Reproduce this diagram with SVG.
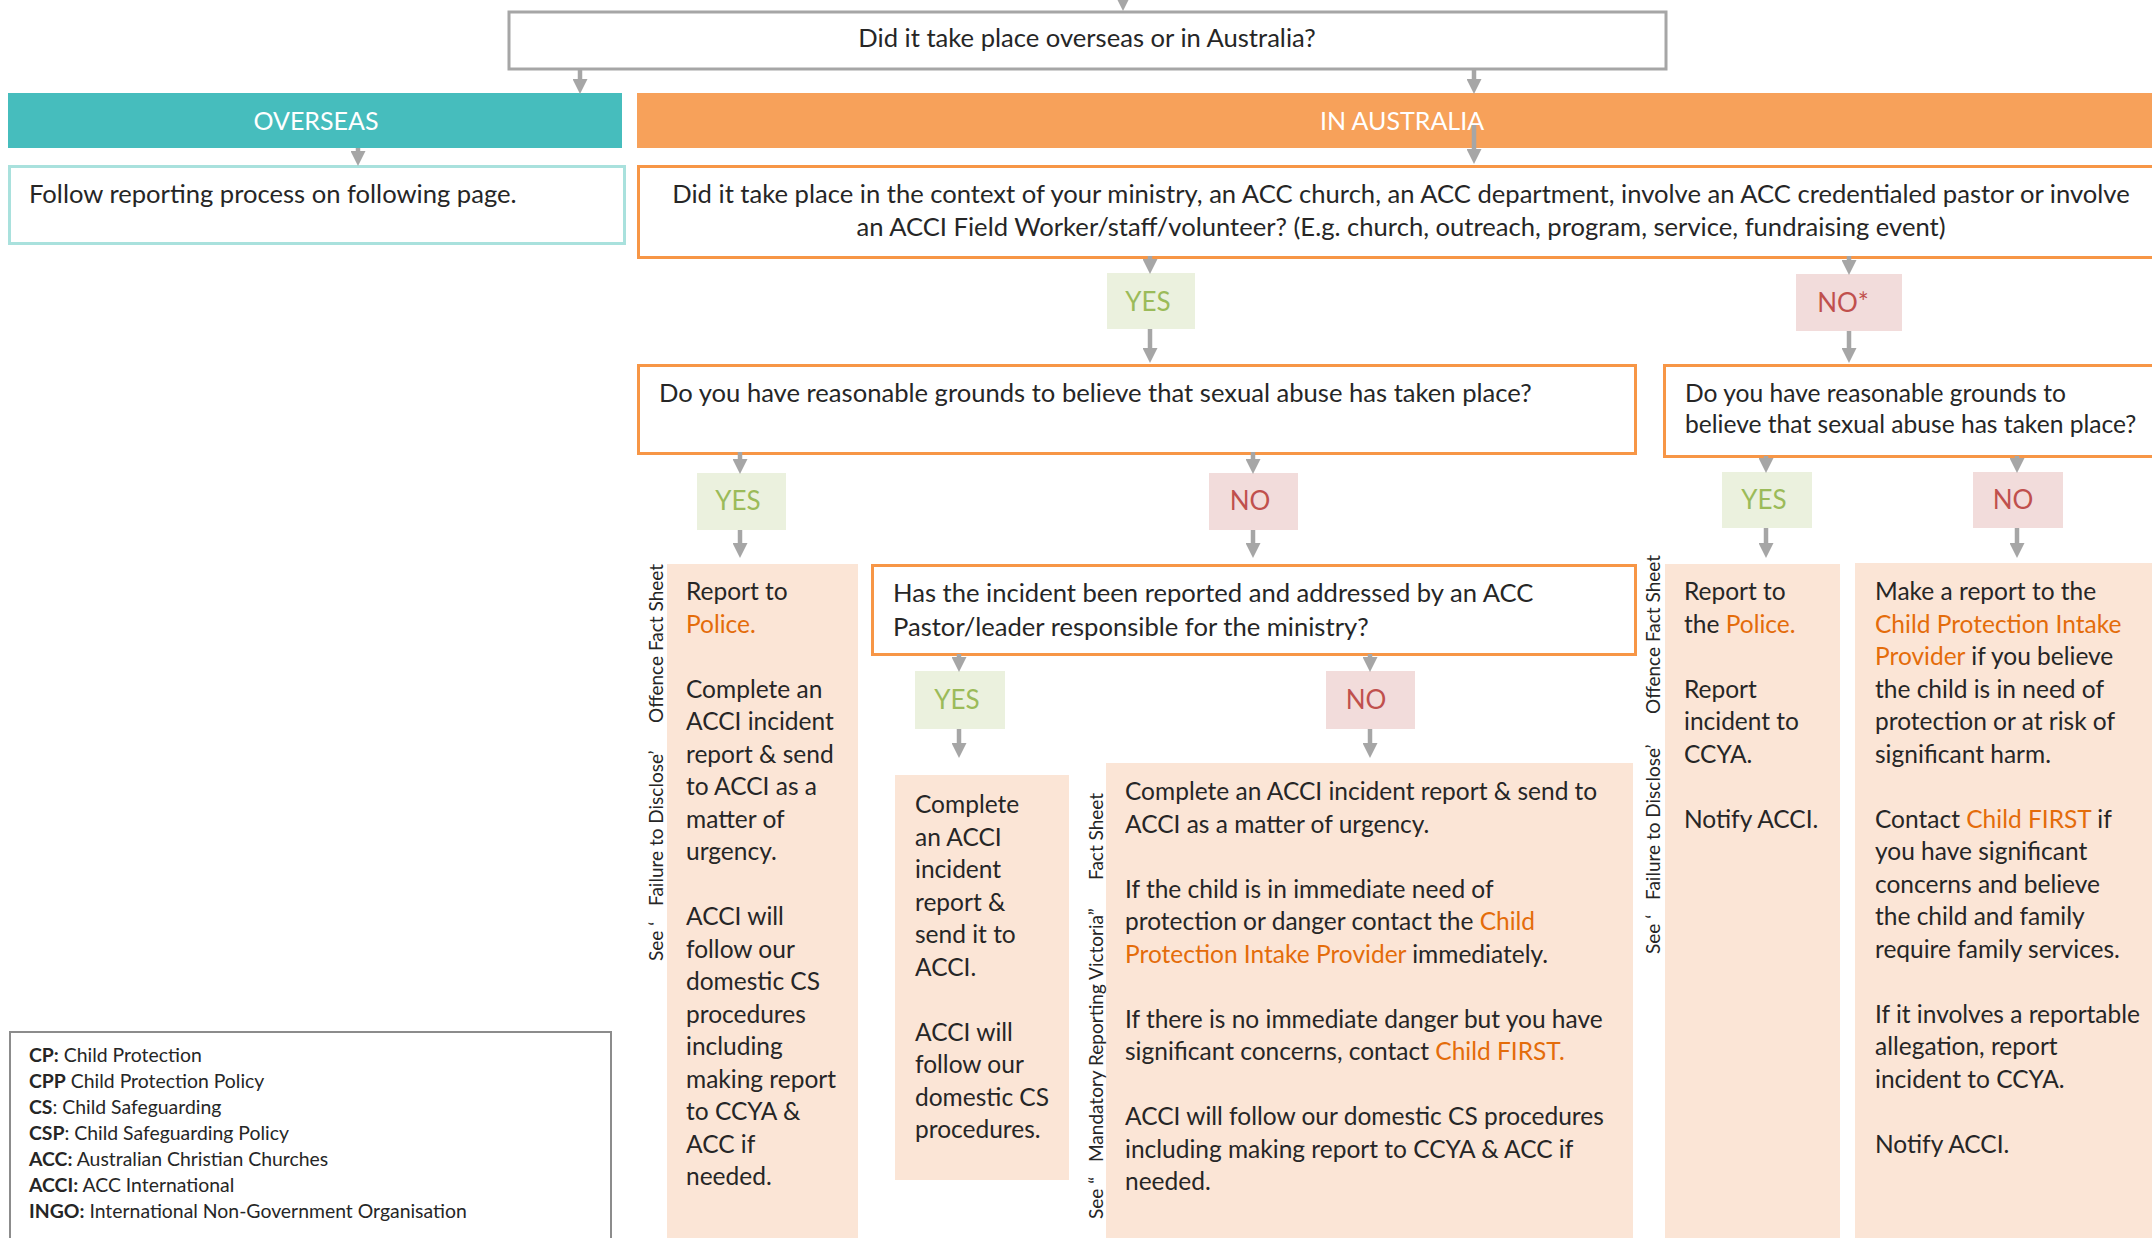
<svg xmlns="http://www.w3.org/2000/svg" width="2152" height="1238" viewBox="0 0 2152 1238">
<defs>
<marker id="ah" markerUnits="userSpaceOnUse" markerWidth="15" markerHeight="15" refX="4" refY="7.5" orient="auto">
<path d="M0,0 L15,7.5 L0,15 z" fill="#A6A6A6"/>
</marker>
</defs>
<style>
text{font-family:Lato,"Liberation Sans",sans-serif;fill:#262626}
.t{font-size:24.5px}
.q{font-size:25.6px}
.q2{font-size:24.6px}
.c{text-anchor:middle}
.o{fill:#E46C0A}
.w{fill:#ffffff;font-size:25px}
.yes{fill:#9BBB59;font-size:26px;text-anchor:middle}
.no{fill:#C0504D;font-size:26px;text-anchor:middle}
.v{font-size:19px}
.lg{font-size:19.4px}
.b{font-weight:bold}
.ob{fill:#fff;stroke:#F79646;stroke-width:3}
.fy{fill:#EBF1DE}
.fn{fill:#F2DCDB}
.fp{fill:#FBE5D6}
.cn line{stroke:#A6A6A6;stroke-width:4.5;marker-end:url(#ah)}
</style>
<rect width="2152" height="1238" fill="#ffffff"/>

<g id="q-top">
<rect x="509" y="12" width="1157" height="57" fill="#fff" stroke="#A6A6A6" stroke-width="3"/>
<text class="q c" x="1087" y="47">Did it take place overseas or in Australia?</text>
</g>
<g id="overseas">
<rect x="8" y="93" width="614" height="55" fill="#46BDBD"/>
<text class="w c" x="316" y="130">OVERSEAS</text>
</g>
<g id="in-australia">
<rect x="637" y="93" width="1520" height="55" fill="#F7A15A"/>
<text class="w c" x="1402" y="130">IN AUSTRALIA</text>
</g>
<g id="follow">
<rect x="9.5" y="166.5" width="615" height="77" fill="#fff" stroke="#A9E1DD" stroke-width="3"/>
<text class="q" x="29" y="203">Follow reporting process on following page.</text>
</g>
<g id="q-context">
<rect class="ob" x="638.5" y="166.5" width="1520" height="91"/>
<text class="q c" x="1401" y="203">Did it take place in the context of your ministry, an ACC church, an ACC department, involve an ACC credentialed pastor or involve</text>
<text class="q c" x="1401" y="236">an ACCI Field Worker/staff/volunteer? (E.g. church, outreach, program, service, fundraising event)</text>
</g>
<g id="yes-context">
<rect class="fy" x="1107" y="273" width="88" height="56"/>
<text class="yes" x="1148" y="311">YES</text>
</g>
<g id="no-context">
<rect class="fn" x="1796" y="274" width="106" height="57"/>
<text class="no" x="1843" y="312">NO*</text>
</g>
<g id="q-grounds-1">
<rect class="ob" x="638.5" y="365.5" width="997" height="88"/>
<text class="q" x="659" y="402">Do you have reasonable grounds to believe that sexual abuse has taken place?</text>
</g>
<g id="q-grounds-2">
<rect class="ob" x="1664.5" y="365.5" width="495" height="91"/>
<text class="q2" x="1685" y="402">Do you have reasonable grounds to</text>
<text class="q2" x="1685" y="433">believe that sexual abuse has taken place?</text>
</g>
<g id="yes-g1">
<rect class="fy" x="697" y="473" width="89" height="57"/>
<text class="yes" x="738" y="510">YES</text>
</g>
<g id="no-g1">
<rect class="fn" x="1209" y="473" width="89" height="57"/>
<text class="no" x="1250" y="510">NO</text>
</g>
<g id="yes-g2">
<rect class="fy" x="1722" y="472" width="90" height="56"/>
<text class="yes" x="1764" y="509">YES</text>
</g>
<g id="no-g2">
<rect class="fn" x="1973" y="472" width="90" height="56"/>
<text class="no" x="2013" y="509">NO</text>
</g>
<g id="police-1">
<rect class="fp" x="667" y="564" width="191" height="680"/>
<text class="t" x="686" y="600"><tspan x="686">Report to</tspan><tspan x="686" dy="32.5" class="o">Police.</tspan><tspan x="686" dy="65">Complete an</tspan><tspan x="686" dy="32.5">ACCI incident</tspan><tspan x="686" dy="32.5">report &amp; send</tspan><tspan x="686" dy="32.5">to ACCI as a</tspan><tspan x="686" dy="32.5">matter of</tspan><tspan x="686" dy="32.5">urgency.</tspan><tspan x="686" dy="65">ACCI will</tspan><tspan x="686" dy="32.5">follow our</tspan><tspan x="686" dy="32.5">domestic CS</tspan><tspan x="686" dy="32.5">procedures</tspan><tspan x="686" dy="32.5">including</tspan><tspan x="686" dy="32.5">making report</tspan><tspan x="686" dy="32.5">to CCYA &amp;</tspan><tspan x="686" dy="32.5">ACC if</tspan><tspan x="686" dy="32.5">needed.</tspan></text>
<text class="v" transform="translate(663,961) rotate(-90)"><tspan x="0">See ‘</tspan><tspan x="55">Failure to Disclose’</tspan><tspan x="238">Offence Fact Sheet</tspan></text>
</g>
<g id="q-reported">
<rect class="ob" x="872.5" y="565.5" width="763" height="89"/>
<text class="q" x="893" y="602">Has the incident been reported and addressed by an ACC</text>
<text class="q" x="893" y="636">Pastor/leader responsible for the ministry?</text>
</g>
<g id="yes-rep">
<rect class="fy" x="915" y="671" width="90" height="58"/>
<text class="yes" x="957" y="709">YES</text>
</g>
<g id="no-rep">
<rect class="fn" x="1326" y="671" width="89" height="58"/>
<text class="no" x="1366" y="709">NO</text>
</g>
<g id="complete-yes">
<rect class="fp" x="895" y="775" width="174" height="405"/>
<text class="t" x="915" y="813"><tspan x="915">Complete</tspan><tspan x="915" dy="32.5">an ACCI</tspan><tspan x="915" dy="32.5">incident</tspan><tspan x="915" dy="32.5">report &amp;</tspan><tspan x="915" dy="32.5">send it to</tspan><tspan x="915" dy="32.5">ACCI.</tspan><tspan x="915" dy="65">ACCI will</tspan><tspan x="915" dy="32.5">follow our</tspan><tspan x="915" dy="32.5">domestic CS</tspan><tspan x="915" dy="32.5">procedures.</tspan></text>
</g>
<g id="complete-no">
<rect class="fp" x="1106" y="763" width="527" height="480"/>
<text class="t" x="1125" y="800"><tspan x="1125">Complete an ACCI incident report &amp; send to</tspan><tspan x="1125" dy="32.5">ACCI as a matter of urgency.</tspan><tspan x="1125" dy="65">If the child is in immediate need of</tspan><tspan x="1125" dy="32.5">protection or danger contact the <tspan class="o">Child</tspan></tspan><tspan x="1125" dy="32.5"><tspan class="o">Protection Intake Provider</tspan> immediately.</tspan><tspan x="1125" dy="65">If there is no immediate danger but you have</tspan><tspan x="1125" dy="32.5">significant concerns, contact <tspan class="o">Child FIRST.</tspan></tspan><tspan x="1125" dy="65">ACCI will follow our domestic CS procedures</tspan><tspan x="1125" dy="32.5">including making report to CCYA &amp; ACC if</tspan><tspan x="1125" dy="32.5">needed.</tspan></text>
<text class="v" transform="translate(1103,1219) rotate(-90)"><tspan x="0">See “</tspan><tspan x="57">Mandatory Reporting Victoria”</tspan><tspan x="339">Fact Sheet</tspan></text>
</g>
<g id="police-2">
<rect class="fp" x="1665" y="564" width="175" height="680"/>
<text class="t" x="1684" y="600"><tspan x="1684">Report to</tspan><tspan x="1684" dy="32.5">the <tspan class="o">Police.</tspan></tspan><tspan x="1684" dy="65">Report</tspan><tspan x="1684" dy="32.5">incident to</tspan><tspan x="1684" dy="32.5">CCYA.</tspan><tspan x="1684" dy="65">Notify ACCI.</tspan></text>
<text class="v" transform="translate(1660,954) rotate(-90)"><tspan x="0">See ‘</tspan><tspan x="54">Failure to Disclose’</tspan><tspan x="240">Offence Fact Sheet</tspan></text>
</g>
<g id="report-cp">
<rect class="fp" x="1855" y="563" width="300" height="680"/>
<text class="t" x="1875" y="600"><tspan x="1875">Make a report to the</tspan><tspan x="1875" dy="32.5" class="o">Child Protection Intake</tspan><tspan x="1875" dy="32.5"><tspan class="o">Provider</tspan> if you believe</tspan><tspan x="1875" dy="32.5">the child is in need of</tspan><tspan x="1875" dy="32.5">protection or at risk of</tspan><tspan x="1875" dy="32.5">significant harm.</tspan><tspan x="1875" dy="65">Contact <tspan class="o">Child FIRST</tspan> if</tspan><tspan x="1875" dy="32.5">you have significant</tspan><tspan x="1875" dy="32.5">concerns and believe</tspan><tspan x="1875" dy="32.5">the child and family</tspan><tspan x="1875" dy="32.5">require family services.</tspan><tspan x="1875" dy="65">If it involves a reportable</tspan><tspan x="1875" dy="32.5">allegation, report</tspan><tspan x="1875" dy="32.5">incident to CCYA.</tspan><tspan x="1875" dy="65">Notify ACCI.</tspan></text>
</g>
<g id="legend">
<rect x="10" y="1032" width="601" height="220" fill="#fff" stroke="#8C8C8C" stroke-width="2"/>
<text class="lg" x="29" y="1062"><tspan class="b">CP:</tspan> Child Protection</text>
<text class="lg" x="29" y="1088"><tspan class="b">CPP</tspan> Child Protection Policy</text>
<text class="lg" x="29" y="1114"><tspan class="b">CS</tspan>: Child Safeguarding</text>
<text class="lg" x="29" y="1140"><tspan class="b">CSP</tspan>: Child Safeguarding Policy</text>
<text class="lg" x="29" y="1166"><tspan class="b">ACC:</tspan> Australian Christian Churches</text>
<text class="lg" x="29" y="1192"><tspan class="b">ACCI:</tspan> ACC International</text>
<text class="lg" x="29" y="1218"><tspan class="b">INGO:</tspan> International Non-Government Organisation</text>
</g>

<g id="connectors" class="cn">
<line x1="1123" y1="-6" x2="1123" y2="0"/>
<line x1="580" y1="69" x2="580" y2="83"/>
<line x1="1474" y1="69" x2="1474" y2="83"/>
<line x1="1474" y1="125" x2="1474" y2="153"/>
<line x1="358" y1="148" x2="358" y2="155"/>
<line x1="1150" y1="256" x2="1150" y2="263"/>
<line x1="1150" y1="329" x2="1150" y2="352"/>
<line x1="1849" y1="256" x2="1849" y2="264"/>
<line x1="1849" y1="331" x2="1849" y2="352"/>
<line x1="740" y1="452" x2="740" y2="463"/>
<line x1="740" y1="530" x2="740" y2="547"/>
<line x1="1253" y1="452" x2="1253" y2="463"/>
<line x1="1253" y1="530" x2="1253" y2="547"/>
<line x1="959" y1="654" x2="959" y2="661"/>
<line x1="959" y1="729" x2="959" y2="747"/>
<line x1="1370" y1="654" x2="1370" y2="661"/>
<line x1="1370" y1="729" x2="1370" y2="747"/>
<line x1="1766" y1="456" x2="1766" y2="462"/>
<line x1="1766" y1="528" x2="1766" y2="547"/>
<line x1="2017" y1="456" x2="2017" y2="462"/>
<line x1="2017" y1="528" x2="2017" y2="547"/>
</g>
</svg>
